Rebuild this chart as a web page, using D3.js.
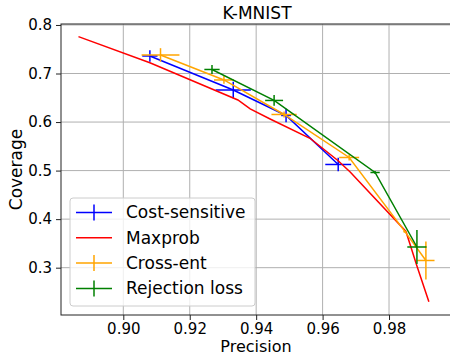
<!DOCTYPE html>
<html>
<head>
<meta charset="utf-8">
<script src="https://cdn.jsdelivr.net/npm/d3@7"></script>
<style>
  body { margin: 0; background: #fff; }
  text { font-family: "DejaVu Sans", sans-serif; fill: #000; }
</style>
</head>
<body>
<svg id="chart" width="450" height="356"></svg>
<script>
// series data
const seriesNames = ["Cost-sensitive", "Maxprob", "Cross-ent", "Rejection loss"];
const seriesColors = ["blue", "red", "orange", "green"];

const costPrecision = [0.9080, 0.9331, 0.9490, 0.9647];
const costCoverage = [0.7361, 0.6661, 0.6136, 0.5126];
const costPrecErr = [0.0023, 0.0053, 0.0015, 0.0039];
const costCovErr = [0.012, 0.017, 0.014, 0.014];

const maxPrecision = [0.8865, 0.9080, 0.9345, 0.9382, 0.9442, 0.9562, 0.9646, 0.9683, 0.9851, 0.9884, 0.9920];
const maxCoverage = [0.7759, 0.7223, 0.6455, 0.6270, 0.6063, 0.5666, 0.5209, 0.4972, 0.3746, 0.3035, 0.2300];

const crossPrecision = [0.9112, 0.9303, 0.9484, 0.9680, 0.9848, 0.9911];
const crossCoverage = [0.7382, 0.6867, 0.6156, 0.5270, 0.3742, 0.3148];
const crossPrecErr = [0.0057, 0.0030, 0.0038, 0.0030, 0.0005, 0.0026];
const crossCovErr = [0.014, 0.008, 0.006, 0.006, 0.002, 0.039];

const rejPrecision = [0.9267, 0.9454, 0.9758, 0.9884];
const rejCoverage = [0.7083, 0.6445, 0.4961, 0.3426];
const rejPrecErr = [0.0023, 0.0027, 0.0014, 0.0029];
const rejCovErr = [0.0093, 0.011, 0.003, 0.035];

const xTicks = [0.90, 0.92, 0.94, 0.96, 0.98];
const yTicks = [0.3, 0.4, 0.5, 0.6, 0.7, 0.8];

function zip(xs, ys, xe, ye) {
  return xs.map((x, i) => ({x: x, y: ys[i], xe: xe ? xe[i] : 0, ye: ye ? ye[i] : 0}));
}

const series = [
  {name: seriesNames[0], color: seriesColors[0], pts: zip(costPrecision, costCoverage, costPrecErr, costCovErr), err: true},
  {name: seriesNames[1], color: seriesColors[1], pts: zip(maxPrecision, maxCoverage), err: false},
  {name: seriesNames[2], color: seriesColors[2], pts: zip(crossPrecision, crossCoverage, crossPrecErr, crossCovErr), err: true},
  {name: seriesNames[3], color: seriesColors[3], pts: zip(rejPrecision, rejCoverage, rejPrecErr, rejCovErr), err: true}
];

const svg = d3.select("#chart");
const padL = 61, padR = 453, padT = 24, padB = 315;

let x = d3.scaleLinear().domain([0.88124, 0.99926]).range([padL, padR]);
let y = d3.scaleLinear().domain([0.2025, 0.802]).range([padB, padT]);

// grid
let grid = svg.append("g");
grid.selectAll(".gx").data(xTicks).enter().append("line")
  .attr("x1", d => x(d)).attr("x2", d => x(d))
  .attr("y1", padT).attr("y2", padB)
  .attr("stroke", "#b0b0b0").attr("stroke-width", 1);
grid.selectAll(".gy").data(yTicks).enter().append("line")
  .attr("x1", padL).attr("x2", padR)
  .attr("y1", d => y(d)).attr("y2", d => y(d))
  .attr("stroke", "#b0b0b0").attr("stroke-width", 1);

// axes
let xAxis = d3.axisBottom(x).tickValues(xTicks).tickFormat(d3.format(".2f")).tickSize(5).tickPadding(3);
let yAxis = d3.axisLeft(y).tickValues(yTicks).tickFormat(d3.format(".1f")).tickSize(5).tickPadding(4);

let gx = svg.append("g").attr("transform", "translate(0," + padB + ")").call(xAxis);
let gy = svg.append("g").attr("transform", "translate(" + padL + ",0)").call(yAxis);
[gx, gy].forEach(g => {
  g.select(".domain").remove();
  g.selectAll("line").attr("stroke", "#222");
  g.selectAll("text").attr("font-size", "15px").attr("font-family", "DejaVu Sans");
});

// data
let line = d3.line().x(d => x(d.x)).y(d => y(d.y));
let plot = svg.append("g");
series.forEach(s => {
  let g = plot.append("g");
  g.append("path").datum(s.pts)
    .attr("d", line).attr("fill", "none")
    .attr("stroke", s.color).attr("stroke-width", 1.5);
  if (s.err) {
    g.selectAll(".ex").data(s.pts).enter().append("line")
      .attr("x1", d => x(d.x - d.xe)).attr("x2", d => x(d.x + d.xe))
      .attr("y1", d => y(d.y)).attr("y2", d => y(d.y))
      .attr("stroke", s.color).attr("stroke-width", 1.5);
    g.selectAll(".ey").data(s.pts).enter().append("line")
      .attr("x1", d => x(d.x)).attr("x2", d => x(d.x))
      .attr("y1", d => y(d.y - d.ye)).attr("y2", d => y(d.y + d.ye))
      .attr("stroke", s.color).attr("stroke-width", 1.5);
  }
});

// frame
svg.append("rect")
  .attr("x", padL).attr("y", padT)
  .attr("width", padR - padL).attr("height", padB - padT)
  .attr("fill", "none").attr("stroke", "#222").attr("stroke-width", 1);

// title and labels
svg.append("text").attr("x", (padL + padR) / 2).attr("y", 19)
  .attr("text-anchor", "middle").attr("font-size", "17px").text("K-MNIST");
svg.append("text").attr("x", (padL + padR) / 2 - 1).attr("y", 352.2)
  .attr("text-anchor", "middle").attr("font-size", "16px").text("Precision");
svg.append("text")
  .attr("transform", "translate(22," + ((padT + padB) / 2) + ") rotate(-90)")
  .attr("text-anchor", "middle").attr("font-size", "17px").text("Coverage");

// legend
let leg = svg.append("g");
leg.append("rect")
  .attr("x", 70).attr("y", 198).attr("width", 185).attr("height", 108)
  .attr("rx", 3).attr("fill", "white").attr("fill-opacity", 0.8)
  .attr("stroke", "#cccccc").attr("stroke-width", 1);
series.forEach((s, i) => {
  let ry = 212.5 + i * 25.3;
  leg.append("line").attr("x1", 76).attr("x2", 112).attr("y1", ry).attr("y2", ry)
    .attr("stroke", s.color).attr("stroke-width", 1.5);
  if (s.err) {
    leg.append("line").attr("x1", 94).attr("x2", 94).attr("y1", ry - 8).attr("y2", ry + 8)
      .attr("stroke", s.color).attr("stroke-width", 1.5);
  }
  leg.append("text").attr("x", 126).attr("y", ry).attr("dy", "0.35em")
    .attr("font-size", "17px").text(s.name);
});
</script>
</body>
</html>
